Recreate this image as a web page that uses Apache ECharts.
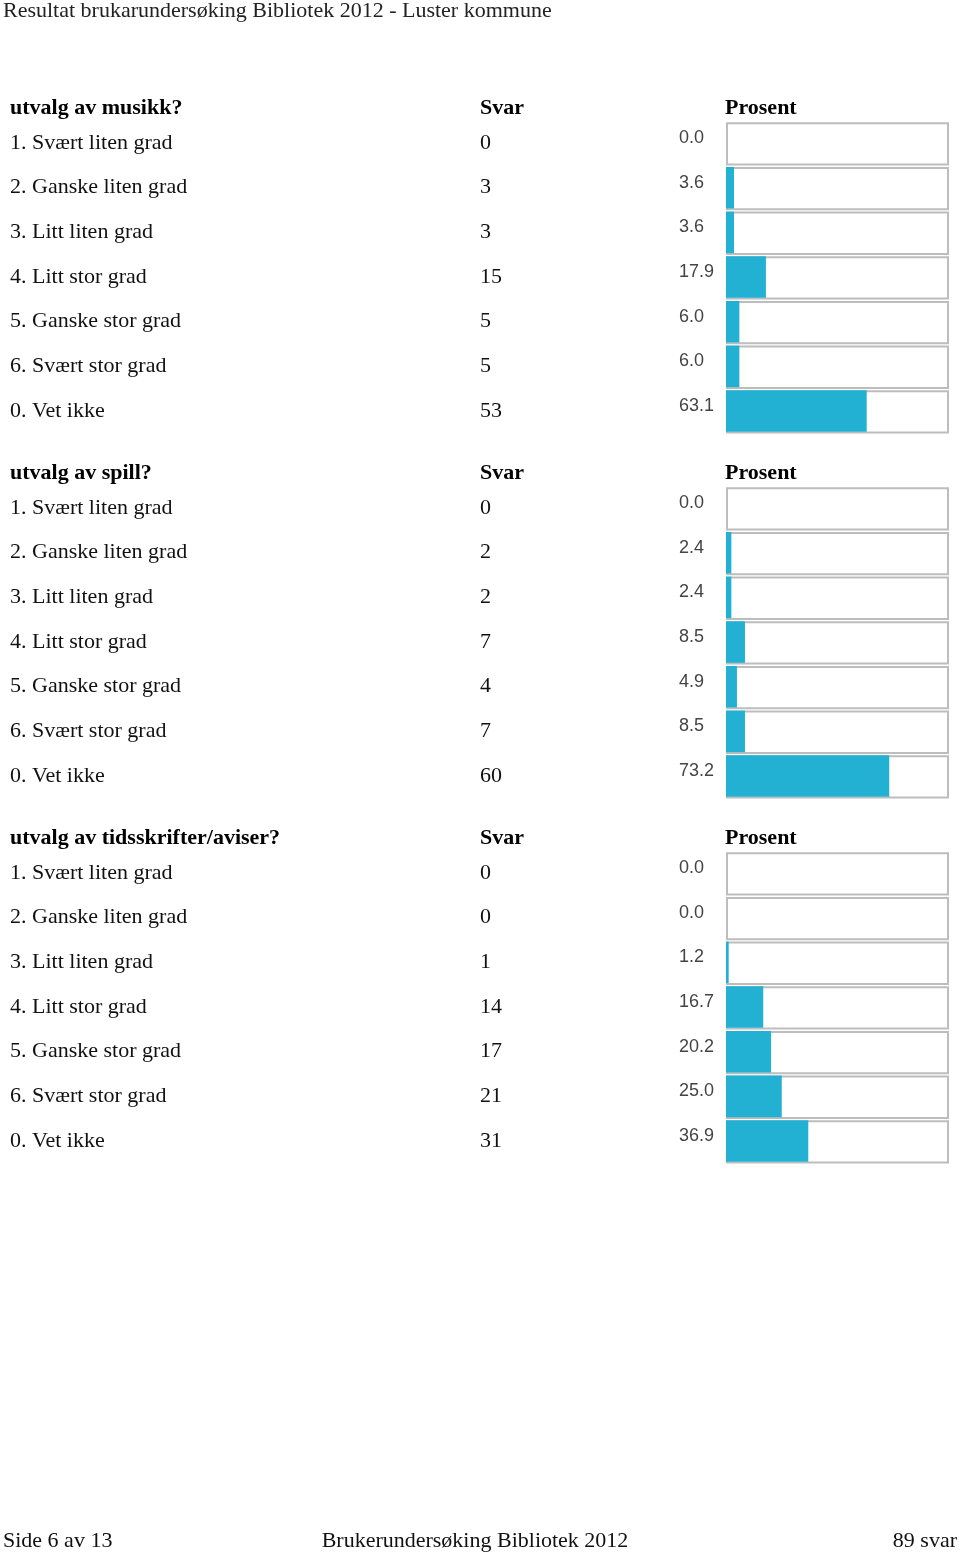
<!DOCTYPE html>
<html><head><meta charset="utf-8">
<script src="https://cdn.jsdelivr.net/npm/echarts@6/dist/echarts.min.js"></script>
<style>html,body{margin:0;padding:0;background:#fff}#c{width:960px;height:1556px}</style>
</head><body><div id="c"></div>
<script>
const pageTitle = "Resultat brukarundersøking Bibliotek 2012 - Luster kommune";
const footerLeft = "Side 6 av 13";
const footerCenter = "Brukerundersøking Bibliotek 2012";
const footerRight = "89 svar";
const categories = ["1. Svært liten grad","2. Ganske liten grad","3. Litt liten grad","4. Litt stor grad","5. Ganske stor grad","6. Svært stor grad","0. Vet ikke"];
const questions = ["utvalg av musikk?","utvalg av spill?","utvalg av tidsskrifter/aviser?"];
const countsMusikk = [0,3,3,15,5,5,53];
const countsSpill = [0,2,2,7,4,7,60];
const countsTids = [0,0,1,14,17,21,31];
const pctMusikk = [0.0,3.6,3.6,17.9,6.0,6.0,63.1];
const pctSpill = [0.0,2.4,2.4,8.5,4.9,8.5,73.2];
const pctTids = [0.0,0.0,1.2,16.7,20.2,25.0,36.9];
const counts = [countsMusikk,countsSpill,countsTids];
const pcts = [pctMusikk,pctSpill,pctTids];

const serif = "'Liberation Serif','DejaVu Serif',serif";
const sans = "'Liberation Sans',Arial,sans-serif";
const gridLeft = 726, gridW = 223, rowH = 44.67, gridH = rowH*7;
const tops = [120.7, 485.7, 850.7];
const grids=[], xAxes=[], yAxes=[], series=[], graphics=[];
tops.forEach((t,i)=>{
  grids.push({left:gridLeft, top:t, width:gridW, height:gridH});
  xAxes.push({gridIndex:i, type:'value', min:0, max:100, show:false});
  const base = {gridIndex:i, type:'category', inverse:true, position:'left',
    axisLine:{show:false}, axisTick:{show:false}, splitLine:{show:false}};
  yAxes.push(Object.assign({}, base, {data:categories,
    axisLabel:{align:'left', margin:716, fontFamily:serif, fontSize:22, color:'#111'}}));
  yAxes.push(Object.assign({}, base, {data:counts[i].map(String),
    axisLabel:{align:'left', margin:246, fontFamily:serif, fontSize:22, color:'#111'}}));
  yAxes.push(Object.assign({}, base, {data:pcts[i].map(v=>v.toFixed(1)),
    axisLabel:{align:'left', margin:47, fontFamily:sans, fontSize:18, color:'#444', verticalAlign:'bottom', lineHeight:10}}));
  series.push({type:'bar', xAxisIndex:i, yAxisIndex:i*3, data:pcts[i].map(()=>100),
    barWidth:'97%', barGap:'-100%', silent:true, z:1,
    itemStyle:{color:'#fff', borderColor:'#bdbdbd', borderWidth:2}});
  series.push({type:'bar', xAxisIndex:i, yAxisIndex:i*3, data:pcts[i],
    barWidth:'93%', barGap:'-100%', z:2,
    itemStyle:{color:'#22b1d3'}});
  const hy = t - 12;
  graphics.push({type:'text', style:{x:10, y:hy, text:questions[i], font:"bold 22px "+serif, fill:'#000', textVerticalAlign:'middle'}});
  graphics.push({type:'text', style:{x:480, y:hy, text:'Svar', font:"bold 22px "+serif, fill:'#000', textVerticalAlign:'middle'}});
  graphics.push({type:'text', style:{x:725, y:hy, text:'Prosent', font:"bold 22px "+serif, fill:'#000', textVerticalAlign:'middle'}});
});
graphics.push({type:'text', style:{x:3, y:11, text:pageTitle, font:"22px "+serif, fill:'#222', textVerticalAlign:'middle'}});
graphics.push({type:'text', style:{x:3, y:1541, text:footerLeft, font:"22px "+serif, fill:'#111', textVerticalAlign:'middle'}});
graphics.push({type:'text', style:{x:475, y:1541, text:footerCenter, font:"22px "+serif, fill:'#111', textVerticalAlign:'middle', textAlign:'center'}});
graphics.push({type:'text', style:{x:957, y:1541, text:footerRight, font:"22px "+serif, fill:'#111', textVerticalAlign:'middle', textAlign:'right'}});

const chart = echarts.init(document.getElementById('c'));
chart.setOption({animation:false, backgroundColor:'#fff', grid:grids, xAxis:xAxes, yAxis:yAxes, series:series, graphic:graphics});
</script></body></html>
